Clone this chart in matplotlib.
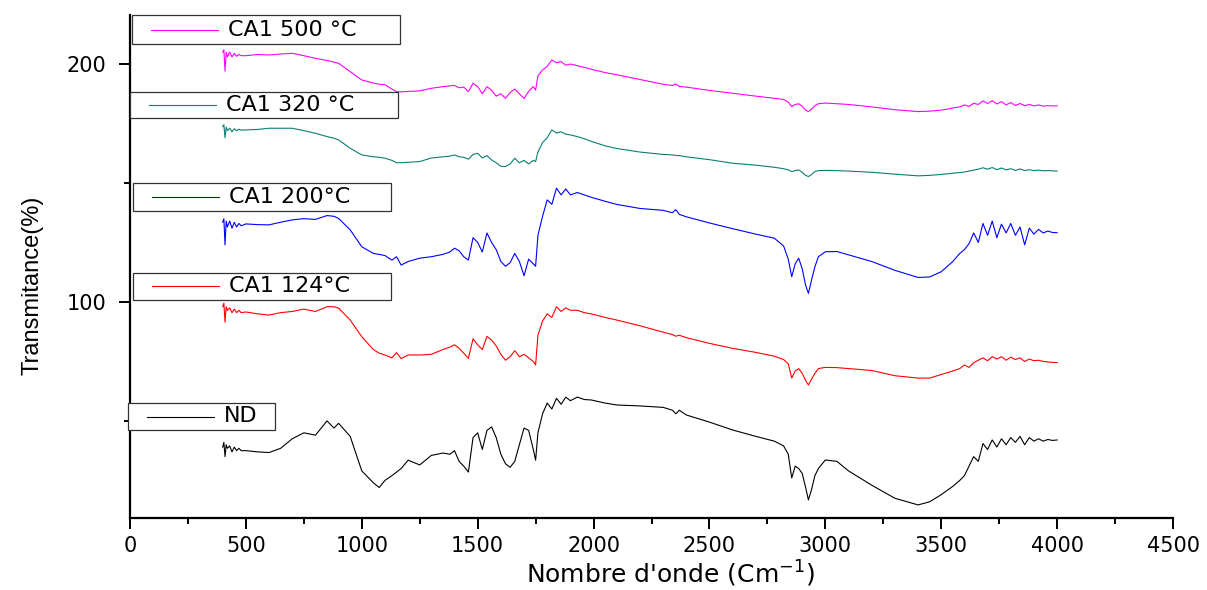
import matplotlib
matplotlib.use("Agg")
import matplotlib.pyplot as plt
from matplotlib.ticker import MultipleLocator, FixedLocator
from matplotlib.patches import Rectangle
from matplotlib.lines import Line2D

plt.rcParams['font.family'] = ['DejaVu Sans']

# wavenumber grid (cm-1)
wn = [400, 405, 410, 415, 420, 430, 440, 450, 460, 470, 480,
      500, 550, 600, 650, 700, 750, 800, 850, 880, 900, 950, 1000, 1050, 1075, 1100, 1130, 1150, 1170, 1200, 1250, 1300, 1350,
      1380, 1400, 1420, 1440, 1460, 1480, 1500, 1520, 1540, 1560, 1580, 1600, 1620, 1640, 1660, 1680, 1700, 1720, 1740,
      1750, 1760, 1780, 1800, 1820, 1840, 1860, 1880, 1900,
      1930, 1960, 1990, 2050, 2100, 2200, 2300, 2340, 2355, 2370, 2400, 2500, 2600, 2700, 2780, 2820, 2840, 2855, 2870,
      2885, 2900, 2915, 2927, 2940, 2955, 2970, 3000, 3050, 3100, 3200, 3300, 3400, 3450, 3500, 3550,
      3580, 3600, 3620, 3640, 3660, 3680, 3700, 3720, 3740, 3760, 3780, 3800, 3820, 3840, 3860, 3880, 3900, 3920, 3940, 3960, 3980, 4000]

nd = [39, 41, 35, 40, 38.5, 39.5, 37, 39, 37.5, 38.5, 37.5,
      37.5, 37, 36.7, 38.5, 42.5, 45, 44, 50, 47, 49, 43.5, 29, 24, 22, 25, 27, 28.5, 30, 33.5, 31.5, 35.5, 36.5,
      36, 37.5, 33, 31, 28.5, 43, 45, 38, 46, 47.5, 43, 36, 32, 30.5, 33, 40, 47, 46, 38,
      33.5, 45, 53, 57.5, 55, 59.5, 57, 60, 58.5,
      60, 59, 58.8, 57.5, 56.7, 56.3, 55.7, 54.5, 53, 54.5, 52.5, 49.5, 46.2, 43.5, 41.5, 39.5, 36, 26, 31,
      30, 28, 22, 16.8, 21, 27, 30, 33.6, 33, 29, 23, 17.5, 14.7, 16, 19, 22.5,
      25, 27, 31, 35, 33, 40.5, 38, 42, 39, 42.5, 40, 43, 41, 43.5, 40, 43, 41.5, 42.5, 41.5, 42.2, 41.8, 42]

ca1_124 = [98, 99.5, 91.5, 98, 96.5, 97.5, 95.5, 97, 95.5, 96.5, 95.5,
           95.8, 95, 94.5, 95.5, 96, 97, 96, 98, 98, 97.4, 92.4, 85.4, 80, 78.5, 77.7, 76.5, 78.7, 76.2, 77.7, 77.7, 78, 80,
           81, 82, 80.5, 78.5, 76.3, 84.5, 82, 80, 85.5, 84, 81.5, 78, 75.5, 77, 79.5, 77, 78, 76.5, 75,
           73.5, 86, 92, 95, 93.5, 98, 96, 97.5, 96.5,
           96.5, 95.5, 95, 93.5, 92.4, 90, 87.3, 86.3, 85.6, 86, 85, 82.6, 80.5, 78.8, 77.2, 75.8, 74, 68, 71,
           72, 70, 67, 65.1, 67.5, 70, 72, 72.5, 72.4, 72, 71.2, 69, 68, 68, 69.5, 71,
           72, 73.5, 72.5, 74.5, 75.5, 76.5, 75.3, 77, 76, 77, 75.5, 76.8, 75.8, 76.5, 75, 76, 75.3, 75.5, 75, 74.8, 74.6, 74.5]

ca1_200 = [133.5, 135, 124, 134, 131.5, 134, 131, 133.5, 131.5, 133, 132,
           132.8, 132.5, 132.4, 133.5, 134.5, 135, 134.7, 136.3, 136, 135.1, 130.3, 123.2, 120.4, 120, 119.5, 117.6, 119, 115.5, 117, 118.4, 119, 120,
           121, 122.6, 121.5, 119, 117.6, 127, 125, 121, 129, 125, 122, 117, 115, 116.5, 120.4, 117, 111, 118, 116,
           115, 128, 136, 142.9, 141, 147.8, 145, 147.5, 145,
           146, 145, 144, 142.3, 141, 139.3, 138.5, 137.5, 138.8, 136.8, 135.8, 133.2, 130.8, 128.5, 126.8, 123.5, 118, 110.6, 116,
           118.4, 114, 107, 103.6, 109, 114.8, 119, 121.1, 121.2, 119.8, 117, 113.3, 110.3, 110.5, 112.7, 117,
           120.4, 122, 124.5, 129, 125, 133, 128, 134, 127, 132.7, 129, 133, 128, 131.5, 124, 131, 128.5, 130.5, 129, 129.8, 129.2, 129.1]

ca1_320 = [173.7, 174.5, 169, 173.5, 172, 173, 171.5, 172.8, 172, 172.6, 172.2,
           172.3, 172.5, 173, 173, 173, 172, 170.9, 169.5, 168.8, 168.1, 164.6, 161.8, 161, 160.8, 160.4, 159.5, 158.5, 158.5, 158.7, 159, 160.5, 161,
           161.3, 161.8, 161, 160.8, 160, 162, 162.5, 160.5, 161.5, 159.7, 158.5, 157, 156.9, 158, 160.4, 158.5, 159.5, 158, 159.5,
           159, 163, 167, 169, 172.3, 171, 171.5, 170.5, 170.2,
           169.5, 168.6, 167.5, 165.6, 164.5, 163, 162, 161.8, 161.6, 161.5, 161, 159.8, 158.3, 157.5, 156.6, 156, 155.5, 154.8, 155.2,
           155.5, 154.5, 153.2, 152.7, 153.5, 154.8, 155.2, 155.3, 155.2, 155, 154.5, 153.7, 153, 153.2, 153.6, 154.1,
           154.4, 154.6, 155, 155.4, 155.8, 156.4, 155.8, 156.5, 155.6, 156.3, 155.5, 156, 155.3, 155.9, 155.2, 155.6, 155.2, 155.4, 155.1, 155.2, 155.1, 155]

ca1_500 = [205, 206, 197, 205, 203, 205, 203, 204.5, 203.2, 204, 203.5,
           203.5, 204, 203.8, 204.2, 204.5, 203.5, 202.4, 201.5, 200.8, 200.3, 196.8, 193.3, 192, 191.5, 191.3, 189.5, 188.4, 188.3, 188.5, 188.7, 189.8, 190.5,
           190.8, 191, 190, 190.3, 188.4, 191.9, 190.5, 187.5, 190.5, 189, 186.5, 187.5, 185.6, 188, 189.5, 187.5, 185.5, 188.5, 190.5,
           189, 195, 197.5, 199, 201.7, 200.5, 201, 199.5, 200,
           199.3, 198.6, 197.8, 196.4, 195.5, 193.5, 191.5, 191, 191.6, 190.6, 190.3, 188.9, 187.7, 186.5, 185.6, 185.1, 184, 182.1, 183,
           183.3, 182.2, 180.6, 180, 181, 182.5, 183.3, 183.6, 183.3, 183, 182, 180.8, 180, 180.2, 180.6, 181.5,
           182, 182.8, 182.2, 183.5, 183, 184.5, 183.4, 184.6, 183.2, 184.2, 182.8, 183.8, 182.6, 183.4, 182.5, 183, 182.4, 182.8, 182.3, 182.5, 182.4, 182.4]

series = [nd, ca1_124, ca1_200, ca1_320, ca1_500]
labels = ['ND', 'CA1 124°C', 'CA1 200°C', 'CA1 320 °C', 'CA1 500 °C']
colors = ['black', '#ff0000', '#0000ff', '#0b7f74', '#ff00ff']
# legend boxes (left, top, width, height) in figure pixels
legend_boxes = [(128, 403, 147, 27), (133, 273, 258, 27), (133, 183, 258, 28),
                (130, 92, 268, 26), (132, 15, 268, 29)]

W, H = 1207, 590
fig = plt.figure(figsize=(W / 100, H / 100), dpi=100)
ax = fig.add_axes([130 / W, 1 - 518 / H, 1043 / W, 503 / H])

for ys, lab, c in zip(series, labels, colors):
    ax.plot(wn, ys, color=c, lw=0.8, label=lab)

# one little legend box per curve, drawn by hand
for lab, c, (bx, by, bw, bh) in zip(labels, colors, legend_boxes):
    fig.add_artist(Rectangle((bx / W, 1 - (by + bh) / H), bw / W, bh / H,
                             transform=fig.transFigure, facecolor='white',
                             edgecolor='#333333', lw=0.9, zorder=5))
    yc = 1 - (by + bh / 2) / H
    fig.add_artist(Line2D([(bx + 19) / W, (bx + 86) / W], [yc, yc],
                          transform=fig.transFigure, color=c, lw=0.8, zorder=6))
    fig.text((bx + 96) / W, yc, lab, fontsize=16, va='center', ha='left', zorder=6)

ax.set_xlim(0, 4500)
ax.set_ylim(9.2, 220.6)
ax.xaxis.set_major_locator(MultipleLocator(500))
ax.xaxis.set_minor_locator(MultipleLocator(250))
ax.yaxis.set_major_locator(FixedLocator([100, 200]))
ax.yaxis.set_minor_locator(FixedLocator([50, 150]))

for side in ['top', 'right']:
    ax.spines[side].set_visible(False)
for side in ['left', 'bottom']:
    ax.spines[side].set_linewidth(1.6)

ax.tick_params(axis='both', which='major', direction='out', length=8, width=1.4, labelsize=15)
ax.tick_params(axis='both', which='minor', direction='out', length=4.5, width=1.4)
ax.tick_params(axis='x', which='major', pad=5)
ax.tick_params(axis='y', which='major', pad=9)

ax.set_xlabel("Nombre d'onde (Cm$^{-1}$)", fontsize=18)
ax.xaxis.set_label_coords((670 - 130) / 1043, -0.082)
ax.set_ylabel('Transmitance(%)', fontsize=17, family=['Liberation Sans', 'DejaVu Sans'])
ax.yaxis.set_label_coords(-0.083, 0.463)

fig.savefig('out.png', dpi=100)
